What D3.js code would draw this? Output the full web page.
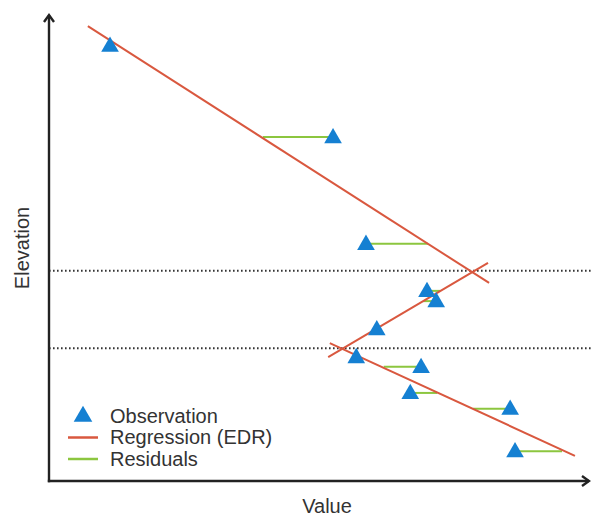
<!DOCTYPE html>
<html>
<head>
<meta charset="utf-8">
<script src="https://cdn.jsdelivr.net/npm/d3@7"></script>
<style>
  html, body { margin: 0; padding: 0; background: #fff; }
  svg { display: block; }
  text { font-family: "Liberation Sans", Arial, sans-serif; fill: #333; }
</style>
</head>
<body>
<svg id="chart" width="591" height="516"></svg>
<script>
// Observations (value, elevation)
const obsValue     = [11.3, 52.6, 58.7, 70.0, 71.7, 60.7, 56.9, 68.9, 66.9, 85.4, 86.3];
const obsElevation = [93.4, 73.8, 50.9, 40.8, 38.6, 32.6, 26.6, 24.5, 18.9, 15.5, 6.4];
// Fitted value on the regression at each observation's elevation
const fittedValue  = [12.2, 39.6, 70.2, 72.4, 69.3, 60.5, 57.6, 62.0, 71.9, 78.5, 95.0];

// Piecewise regression (EDR): three segments, each [value, elevation] start/end
const segValue     = [[7.2, 81.5], [51.7, 81.3], [52.0, 97.4]];
const segElevation = [[97.6, 42.5], [26.6, 46.8], [29.6, 5.4]];

// Breakpoint elevations (dotted lines)
const breakElevation = [45.1, 28.5];

// Legend entries
const legendLabels = ["Observation", "Regression (EDR)", "Residuals"];

const colors = { obs: "#1580d2", reg: "#d9583f", res: "#8cc63f", axis: "#222" };

const svg = d3.select("#chart");
const x = d3.scaleLinear().domain([0, 100]).range([49, 589]);
const y = d3.scaleLinear().domain([0, 100]).range([481, 15]);

// Dotted breakpoint lines
svg.selectAll("line.brk").data(breakElevation).join("line")
  .attr("class", "brk")
  .attr("x1", x(0)).attr("x2", 591)
  .attr("y1", d => y(d)).attr("y2", d => y(d))
  .attr("stroke", "#333").attr("stroke-width", 2)
  .attr("stroke-dasharray", "1.6,2.4");

// Residuals
svg.selectAll("line.res").data(obsValue).join("line")
  .attr("class", "res")
  .attr("x1", (d, i) => x(d)).attr("x2", (d, i) => x(fittedValue[i]))
  .attr("y1", (d, i) => y(obsElevation[i])).attr("y2", (d, i) => y(obsElevation[i]))
  .attr("stroke", colors.res).attr("stroke-width", 2);

// Regression segments
svg.selectAll("line.reg").data(segValue).join("line")
  .attr("class", "reg")
  .attr("x1", d => x(d[0])).attr("x2", d => x(d[1]))
  .attr("y1", (d, i) => y(segElevation[i][0])).attr("y2", (d, i) => y(segElevation[i][1]))
  .attr("stroke", colors.reg).attr("stroke-width", 2);

// Observation markers
const tri = d3.symbol().type(d3.symbolTriangle).size(135);
svg.selectAll("path.obs").data(obsValue).join("path")
  .attr("class", "obs")
  .attr("d", tri)
  .attr("transform", (d, i) => `translate(${x(d)},${y(obsElevation[i]) + 1})`)
  .attr("fill", colors.obs);

// Axes with arrow heads
const axisG = svg.append("g").attr("stroke", colors.axis).attr("stroke-width", 2.4).attr("fill", "none");
axisG.append("line").attr("x1", x(0)).attr("x2", x(0)).attr("y1", y(0) + 1.2).attr("y2", y(100));
axisG.append("line").attr("x1", x(0) - 1.2).attr("x2", x(100)).attr("y1", y(0)).attr("y2", y(0));
axisG.append("path").attr("d", `M${x(0) - 5},${y(100) + 7}L${x(0)},${y(100)}L${x(0) + 5},${y(100) + 7}`);
axisG.append("path").attr("d", `M${x(100) - 7},${y(0) - 5}L${x(100)},${y(0)}L${x(100) - 7},${y(0) + 5}`);

// Axis titles
svg.append("text").attr("x", 327).attr("y", 513)
  .attr("text-anchor", "middle").attr("font-size", 20).text("Value");
svg.append("text").attr("transform", "translate(29,248) rotate(-90)")
  .attr("text-anchor", "middle").attr("font-size", 20).text("Elevation");

// Legend
const legend = svg.append("g");
const rowY = [422.5, 444, 465.5];
legend.append("path")
  .attr("d", d3.symbol().type(d3.symbolTriangle).size(150))
  .attr("transform", `translate(83,${rowY[0] - 6})`)
  .attr("fill", colors.obs);
legend.append("line").attr("x1", 68).attr("x2", 98).attr("y1", rowY[1] - 6.5).attr("y2", rowY[1] - 6.5)
  .attr("stroke", colors.reg).attr("stroke-width", 2.5);
legend.append("line").attr("x1", 68).attr("x2", 98).attr("y1", rowY[2] - 6.5).attr("y2", rowY[2] - 6.5)
  .attr("stroke", colors.res).attr("stroke-width", 2.5);
legend.selectAll("text").data(legendLabels).join("text")
  .attr("x", 110).attr("y", (d, i) => rowY[i])
  .attr("font-size", 20).text(d => d);
</script>
</body>
</html>
